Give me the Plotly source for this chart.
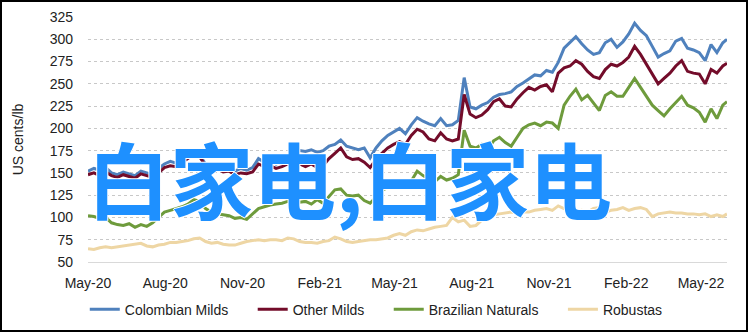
import pandas as pd
import plotly.graph_objects as go

# weekly observations starting May 1 2020, final point June 1 2022
start_date = "2020-05-01"
n_weekly = 109
final_date = "2022-06-01"

colombian_milds = [
    152, 155, 153, 156, 150, 148, 151, 149, 147, 152,
    150, 148, 155, 160, 163, 161, 166, 170, 174, 170,
    160, 156, 158, 154, 156, 152, 155, 153, 156, 166,
    162, 164, 160, 163, 167, 172, 175, 174, 176, 173,
    175, 180, 182, 187, 180, 178, 176, 178, 167, 178,
    186, 192, 196, 200, 194, 204, 212, 208, 205, 203,
    211, 203, 204, 209, 257, 224, 222, 226, 229, 235,
    238, 239, 241, 247, 251, 255, 260, 259, 265, 263,
    274, 290, 297, 303, 295, 288, 283, 285, 296, 300,
    291, 297, 306, 318, 310, 304, 292, 280, 284, 287,
    298, 301, 290, 288, 285, 276, 294, 285, 296, 300,
]
other_milds = [
    148, 150, 147, 151, 147, 145, 148, 146, 144, 149,
    147, 145, 150, 156, 158, 157, 162, 166, 172, 168,
    158, 153, 155, 151, 152, 148, 150, 149, 151, 160,
    157, 158, 155, 157, 160, 158, 160, 157, 160, 156,
    158, 166, 172, 178, 168, 165, 166, 162, 156, 165,
    172, 178, 182, 185, 182, 192, 199, 196, 188, 186,
    195, 188, 186, 188, 238, 216, 212, 215, 221, 230,
    233, 225, 224, 233, 240, 246, 243, 247, 249, 241,
    262, 268, 270, 276, 272, 264, 258, 256, 266, 272,
    270, 274, 280, 292, 283, 272, 262, 250, 256, 262,
    270, 276, 264, 262, 261, 250, 266, 262, 270, 273,
]
brazilian_naturals = [
    102, 101, 99, 100, 94, 92, 91, 93, 89, 92,
    90, 94, 100, 106, 108, 110, 112, 115, 120, 118,
    110, 106, 104, 103, 102, 99, 100, 98, 104, 110,
    112, 114, 115, 116, 118, 120, 117, 118, 115, 120,
    116, 124, 131, 132, 125, 124, 125, 119, 116, 123,
    130, 134, 136, 139, 137, 141, 152, 147, 143, 140,
    146, 142, 144, 148, 198, 180, 178, 182, 176, 186,
    190, 184, 180, 190, 200, 204, 206, 203, 207, 206,
    200, 226, 236, 244, 232, 237, 228, 220, 237, 241,
    236, 236, 246, 256, 246, 236, 226, 220, 214, 222,
    229, 236, 226, 223, 218, 207, 222, 211, 226, 230,
]
robustas = [
    65, 64, 66, 67, 66, 67, 68, 69, 70, 71,
    68, 67, 69, 70, 72, 72, 73, 74, 76, 77,
    73, 71, 72, 70, 69, 69, 71, 73, 74, 75,
    74, 75, 75, 74, 77, 76, 73, 72, 72, 71,
    73, 74, 78, 76, 73, 72, 73, 74, 75, 75,
    76, 77, 80, 82, 80, 84, 86, 85, 87, 89,
    90, 91, 100, 95, 97, 90, 91, 97, 100, 103,
    104, 105, 106, 105, 106, 106, 108, 109, 110, 108,
    113, 110, 107, 107, 108, 106, 110, 111, 106, 108,
    109, 111, 108, 110, 111, 109, 101, 104, 105, 106,
    105, 105, 104, 104, 103, 104, 101, 103, 101, 104,
]

series_names = ["Colombian Milds", "Other Milds", "Brazilian Naturals", "Robustas"]
series_colors = ["#4F81BD", "#730C2A", "#6E9B3C", "#EED6A4"]
y_ticks = [50, 75, 100, 125, 150, 175, 200, 225, 250, 275, 300, 325]
overlay_text = "白家电,白家电"

dates = list(pd.date_range(start_date, periods=n_weekly, freq="7D")) + [pd.Timestamp(final_date)]

W, H = 748, 332
ml, mr, mt, mb = 88, 21, 17, 70
pw, ph = W - ml - mr, H - mt - mb

font_main = "Liberation Sans, Arial, sans-serif"
pad = "\u00a0" * 5

fig = go.Figure()
for name, vals, col in zip(series_names,
                           [colombian_milds, other_milds, brazilian_naturals, robustas],
                           series_colors):
    fig.add_trace(go.Scatter(x=dates, y=vals, mode="lines", name=name + pad,
                             line=dict(color=col, width=3)))

fig.update_layout(
    width=W, height=H,
    margin=dict(l=ml, r=mr, t=mt, b=mb, autoexpand=False),
    paper_bgcolor="white", plot_bgcolor="white",
    font=dict(family=font_main, size=14, color="#222222"),
    showlegend=True,
    legend=dict(orientation="h", x=0.466, xanchor="center", y=-0.195, yanchor="middle",
                font=dict(size=14, color="#222222"), bgcolor="rgba(0,0,0,0)",
                itemwidth=30, tracegroupgap=0),
    xaxis=dict(range=[start_date, final_date], type="date",
               tickformat="%b-%y", dtick="M3", tick0="2020-05-01",
               showgrid=False, showline=True, linecolor="#D9D9D9", linewidth=1,
               ticks="", ticklabelstandoff=8,
               tickfont=dict(size=14, color="#222222"), zeroline=False),
    yaxis=dict(range=[50, 325], tickvals=y_ticks, showgrid=True,
               gridcolor="#C8C8C8", griddash="dot", gridwidth=1,
               zeroline=False, showline=False, ticks="", ticklabelstandoff=14,
               tickfont=dict(size=14, color="#222222"),
               title=dict(text="US cents/lb", font=dict(size=14, color="#222222"), standoff=22)),
)

fig.add_annotation(
    text=overlay_text, xref="paper", yref="paper", x=0.41, y=0.347,
    xanchor="center", yanchor="middle", showarrow=False,
    font=dict(family="Noto Sans CJK SC", size=83, color="#1E90FF", weight="bold",
              shadow="1px 0 0 #fff, -1px 0 0 #fff, 0 1px 0 #fff, 0 -1px 0 #fff"),
)

# outer frame
fig.add_shape(type="rect", xref="paper", yref="paper",
              x0=(1 - ml) / pw, x1=(W - 1 - ml) / pw,
              y0=(H - mb - (H - 1)) / ph, y1=(H - mb - 1) / ph,
              line=dict(color="black", width=2), fillcolor="rgba(0,0,0,0)", layer="above")

fig.write_html("out.html")
